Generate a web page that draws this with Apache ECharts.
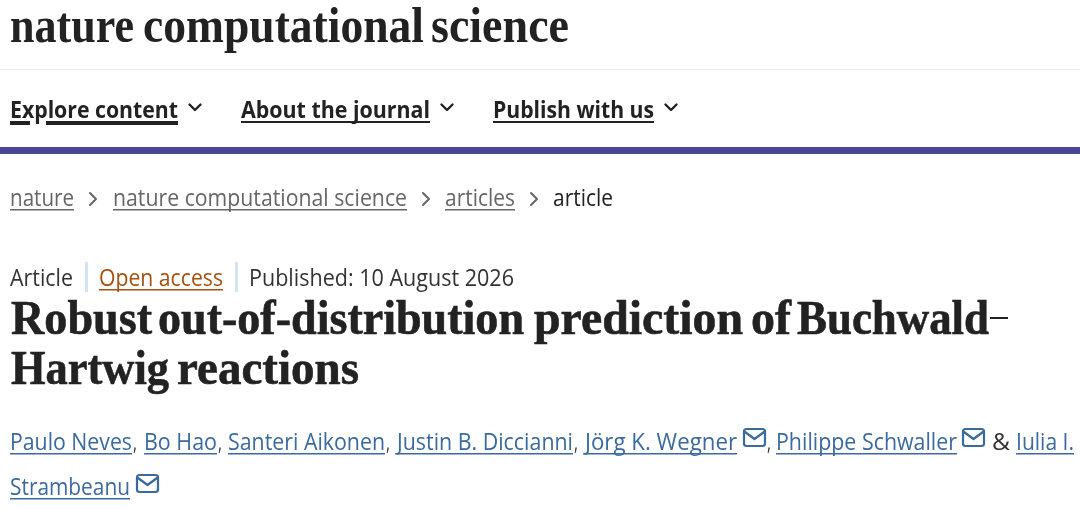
<!DOCTYPE html>
<html><head><meta charset="utf-8">
<style>html,body{margin:0;padding:0;background:#fff}#c{width:1080px;height:509px}</style>
<script src="https://cdn.jsdelivr.net/npm/echarts@6/dist/echarts.min.js"></script>
</head><body><div id="c"></div>
<script>
const journalName = ['nature', 'computational', 'science'];
const navLabels = ['Explore content', 'About the journal', 'Publish with us'];
const crumbLabels = ['nature', 'nature computational science', 'articles', 'article'];
const metaLabels = ['Article', 'Open access', 'Published: 10 August 2026'];
const titleWords1 = ['Robust', 'out-of-distribution', 'prediction', 'of', 'Buchwald'];
const titleWords2 = ['Hartwig', 'reactions'];
const authorNames = ['Paulo Neves', 'Bo Hao', 'Santeri Aikonen', 'Justin B. Diccianni', 'Jörg K. Wegner', 'Philippe Schwaller', 'Iulia I.', 'Strambeanu'];

const SERIF = '"Liberation Serif"', SANS = '"Open Sans"';
const INK = '#222222', LINK = '#3a6a9f', GREY = '#666666', ORANGE = '#a6500f';
const ctx = document.createElement('canvas').getContext('2d');
const g = [];
function txt(s, x0, x1, base, size, weight, family, fill, strokeW) {
  const font = `${weight} ${size}px ${family}`;
  ctx.font = font; ctx.textBaseline = 'middle';
  const m = ctx.measureText(s);
  const k = (x1 - x0) / m.width;
  const off = ctx.measureText('H').actualBoundingBoxDescent;
  const style = {text:s, x:0, y:0, font, fill, align:'left', verticalAlign:'middle'};
  if (strokeW) { style.stroke = fill; style.lineWidth = strokeW; }
  g.push({type:'text', x:x0, y:base - off, scaleX:k, originX:0, originY:0, silent:true, style});
}
function bar(x0, x1, y, h, fill) {
  g.push({type:'rect', silent:true, shape:{x:x0, y:y, width:x1-x0, height:h}, style:{fill}});
}
function poly(pts, stroke, lineWidth) {
  g.push({type:'polyline', silent:true, shape:{points:pts}, style:{stroke, lineWidth, fill:null, lineCap:'round', lineJoin:'round'}});
}
function chevDown(cx, cy) { poly([[cx-5.5,cy-2.5],[cx,cy+3],[cx+5.5,cy-2.5]], '#222', 2.4); }
function chevRight(cx, cy) { poly([[cx-3,cy-6],[cx+3,cy],[cx-3,cy+6]], '#666', 2); }
function mail(x, y) {
  g.push({type:'rect', silent:true, shape:{x:x+1, y:y+1, width:21, height:17, r:2.5}, style:{fill:null, stroke:LINK, lineWidth:2.2}});
  poly([[x+2,y+4],[x+11.5,y+11],[x+21,y+4]], LINK, 2.2);
}

// masthead
const logoX = [[10,134],[143,424],[431,569]];
journalName.forEach((s,i)=>txt(s, logoX[i][0], logoX[i][1], 42, 50, 'bold', SERIF, INK));
bar(0, 1080, 69, 1, '#ececec');
// navigation
const navX = [[10,178],[241,430],[493,654]];
navLabels.forEach((s,i)=>{ txt(s, navX[i][0], navX[i][1], 118, 24, 'bold', SANS, INK); });
bar(10,30,121,4,INK); bar(46,178,121,4,INK);
bar(241,430,121,2,INK); bar(493,654,121,2,INK);
chevDown(195,107); chevDown(447,107); chevDown(671,107);
bar(0,1080,147,7,'#4b4596');
// breadcrumb
const crumbX = [[10,74],[113,407],[445,515],[553,613]];
crumbLabels.forEach((s,i)=>{ txt(s, crumbX[i][0], crumbX[i][1], 206, 23, 'normal', SANS, i<3?GREY:'#222'); if(i<3) bar(crumbX[i][0],crumbX[i][1],209,1.5,GREY); });
chevRight(93,199); chevRight(426,199); chevRight(534,199);
// article meta
txt(metaLabels[0],10,73,286,23,'normal',SANS,'#333');
bar(85,88,262,30,'#d3e3f1');
txt(metaLabels[1],99,223,286,23,'normal',SANS,ORANGE); bar(99,223,289,1.5,ORANGE);
bar(235,238,262,30,'#d3e3f1');
txt(metaLabels[2],249,514,286,23,'normal',SANS,'#333');
// title
const t1X = [[11,152],[158,524],[534,743],[751,791],[797,989]];
titleWords1.forEach((s,i)=>txt(s,t1X[i][0],t1X[i][1],334,49,'bold',SERIF,INK,0.6));
bar(990,1008,317,2,INK);
const t2X = [[11,169],[177,359]];
titleWords2.forEach((s,i)=>txt(s,t2X[i][0],t2X[i][1],384,49,'bold',SERIF,INK,0.6));
// authors
const authorX = [[10,132],[144,217],[228,385],[397,573],[585,737],[776,957],[1016,1074],[10,130]];
authorNames.forEach((s,i)=>{
  const b = i===7 ? 495 : 450;
  txt(s, authorX[i][0], authorX[i][1], b, 23, 'normal', SANS, LINK);
  bar(authorX[i][0], authorX[i][1], b+3, 1.5, LINK);
});
[133,218,386,574,767].forEach(x=>txt(',',x,x+4,450,22,'normal',SANS,'#333'));
txt('&',992,1010,450,23,'normal',SANS,'#333');
mail(743,428); mail(962,428); mail(136,474);

const chart = echarts.init(document.getElementById('c'), null, {renderer:'canvas'});
chart.setOption({backgroundColor:'#ffffff', animation:false, graphic:{elements:g}});
</script></body></html>
